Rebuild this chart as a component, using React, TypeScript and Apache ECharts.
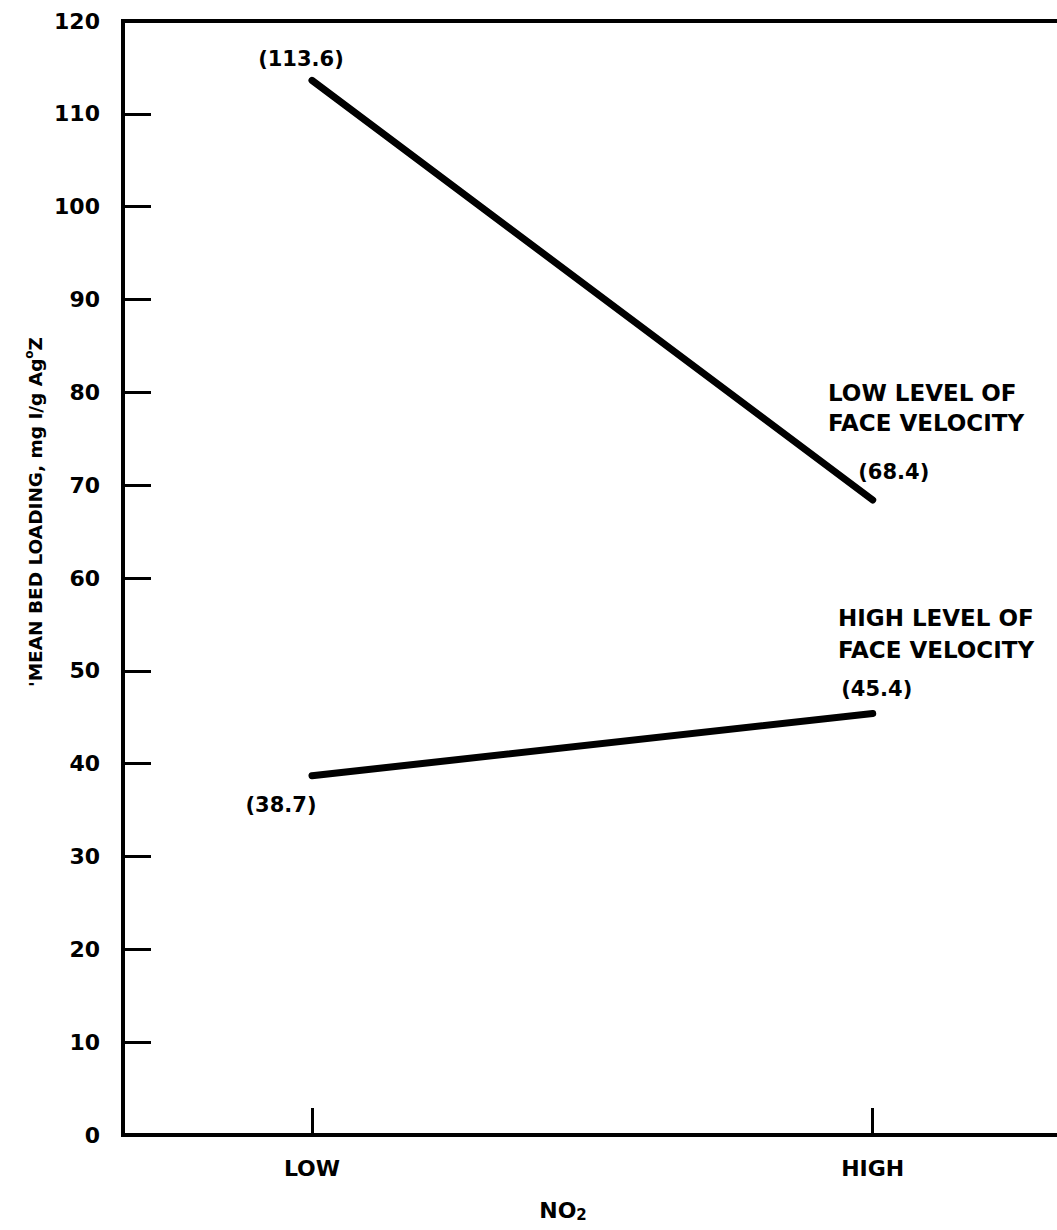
import React, { useEffect, useRef } from "react";
import * as echarts from "echarts";

// NO2 levels on the x axis
const levels = ["LOW", "HIGH"];
const levelValues = [1, 2];

// Mean bed loading (mg I/g Ag°Z) at each NO2 level
const lowFaceVelocity = [113.6, 68.4];
const highFaceVelocity = [38.7, 45.4];

const FONT = "'DejaVu Sans', Verdana, sans-serif";

// Label placement, relative to each point
const lowOffsets: [number, number][] = [
  [-11, -21],
  [21, -28],
];
const highOffsets: [number, number][] = [
  [-31, 29],
  [4, -25],
];

function buildSeries(name: string, values: number[], offsets: [number, number][]) {
  return {
    name,
    type: "line",
    symbol: "circle",
    symbolSize: 6,
    itemStyle: { color: "#000" },
    lineStyle: { color: "#000", width: 7, cap: "round" },
    data: values.map((v, i) => ({
      value: [levelValues[i], v],
      label: { offset: offsets[i] },
    })),
    label: {
      show: true,
      position: "inside",
      color: "#000",
      fontFamily: FONT,
      fontWeight: "bold",
      fontSize: 21,
      formatter: (p: any) => `(${Number(p.value[1]).toFixed(1)})`,
    },
  };
}

export default function App() {
  const ref = useRef<HTMLDivElement>(null);

  useEffect(() => {
    document.body.style.margin = "0";
    document.body.style.overflow = "hidden";
    if (!ref.current) return;
    const chart = echarts.init(ref.current, undefined, { renderer: "svg" });

    const textStyle = {
      fill: "#000",
      fontFamily: FONT,
      fontWeight: "bold",
      fontSize: 23,
    };

    chart.setOption({
      animation: false,
      backgroundColor: "#fff",
      // the plot frame runs past the right edge of the page
      grid: {
        left: 123,
        top: 21,
        bottom: 95,
        right: 11,
        show: true,
        borderColor: "#000",
        borderWidth: 4,
        backgroundColor: "transparent",
      },
      xAxis: {
        type: "value",
        min: 0.663,
        max: 2.35,
        axisLine: { show: true, onZero: false, lineStyle: { color: "#000", width: 4 } },
        axisTick: {
          show: true,
          inside: true,
          length: 27,
          customValues: levelValues,
          lineStyle: { color: "#000", width: 3 },
        },
        axisLabel: {
          show: true,
          customValues: levelValues,
          margin: 22,
          color: "#000",
          fontFamily: FONT,
          fontWeight: "bold",
          fontSize: 22,
          formatter: (v: number) => levels[levelValues.indexOf(v)] ?? "",
        },
        splitLine: { show: false },
      },
      yAxis: {
        type: "value",
        min: 0,
        max: 120,
        interval: 10,
        axisLine: { show: true, lineStyle: { color: "#000", width: 4 } },
        axisTick: {
          show: true,
          inside: true,
          length: 28,
          lineStyle: { color: "#000", width: 3 },
        },
        axisLabel: {
          margin: 23,
          color: "#000",
          fontFamily: FONT,
          fontWeight: "bold",
          fontSize: 22,
        },
        splitLine: { show: false },
      },
      graphic: [
        {
          type: "text",
          left: 828,
          top: 378,
          style: {
            ...textStyle,
            text: "LOW LEVEL OF\nFACE VELOCITY",
            lineHeight: 30,
          },
        },
        {
          type: "text",
          left: 838,
          top: 602,
          style: {
            ...textStyle,
            text: "HIGH LEVEL OF\nFACE VELOCITY",
            lineHeight: 32,
          },
        },
        {
          type: "text",
          x: 35,
          y: 512,
          rotation: Math.PI / 2,
          style: {
            text: "{n|'MEAN BED LOADING, mg I/g Ag}{sup|o}{n|Z}",
            align: "center",
            verticalAlign: "middle",
            fill: "#000",
            rich: {
              n: { fontFamily: FONT, fontWeight: "bold", fontSize: 18.5, lineHeight: 22, fill: "#000" },
              sup: {
                fontFamily: FONT,
                fontWeight: "bold",
                fontSize: 12,
                lineHeight: 11,
                padding: [0, 0, 13, 0],
                fill: "#000",
              },
            },
          },
        },
        {
          type: "text",
          x: 563,
          y: 1210,
          style: {
            text: "{n|NO}{s|2}",
            align: "center",
            verticalAlign: "middle",
            fill: "#000",
            rich: {
              n: { fontFamily: FONT, fontWeight: "bold", fontSize: 22, lineHeight: 24, fill: "#000" },
              s: {
                fontFamily: FONT,
                fontWeight: "bold",
                fontSize: 15,
                lineHeight: 15,
                padding: [16, 0, 0, 0],
                verticalAlign: "bottom",
                fill: "#000",
              },
            },
          },
        },
      ],
      series: [
        buildSeries("Low level of face velocity", lowFaceVelocity, lowOffsets),
        buildSeries("High level of face velocity", highFaceVelocity, highOffsets),
      ],
    });

    return () => chart.dispose();
  }, []);

  return <div ref={ref} style={{ width: 1080, height: 1230 }} />;
}
